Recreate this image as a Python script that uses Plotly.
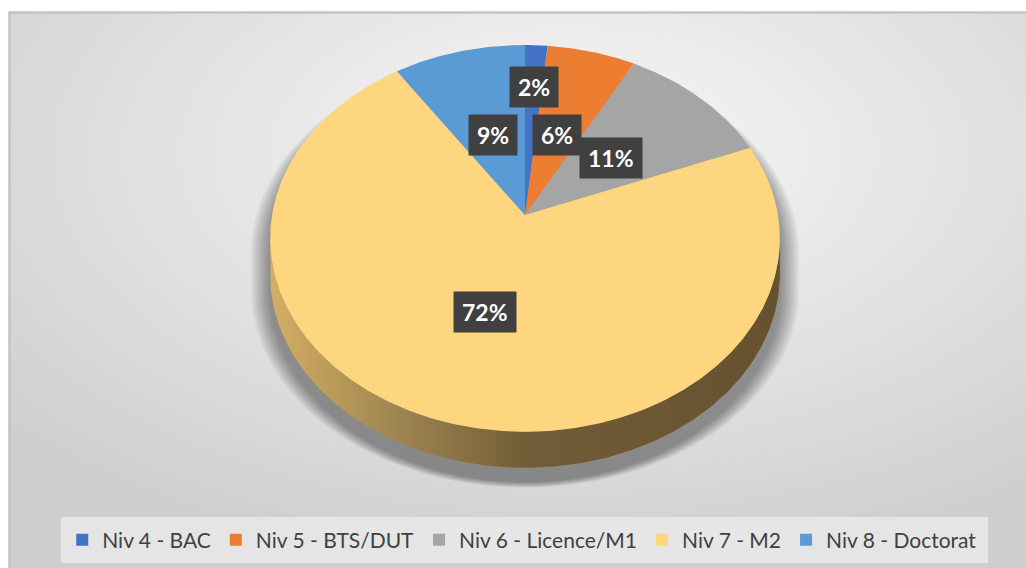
import base64
import numpy as np
import plotly.graph_objects as go

# ---------------- data ----------------
categories = ["Niv 4 - BAC", "Niv 5 - BTS/DUT", "Niv 6 - Licence/M1", "Niv 7 - M2", "Niv 8 - Doctorat"]
values = [1.6, 6.3, 11.1, 71.6, 9.4]
labels = ["2%", "6%", "11%", "72%", "9%"]

# ---------------- style ----------------
colors = ["#4472c4", "#ed7d31", "#a5a5a5", "#fed67f", "#5b9bd5"]
label_r = [0.73, 0.46, 0.47, 0.50, 0.46]
W, H = 1026, 568
CX, CY = 525, 215      # projected pie centre (px)
R = 253                # radius (px)
S = 0.753              # tilt compression
K = 0.121              # perspective strength
T = 36                 # pie thickness (px)


def proj(theta, r=1.0):
    x = r * np.sin(theta)
    y = r * np.cos(theta)
    d = 1 + K * y
    return CX + R * x / d, CY - R * S * y / d


fig = go.Figure()

# background panel (gradient) as svg image
svg = (
    f'<svg xmlns="http://www.w3.org/2000/svg" width="{W}" height="{H}">'
    '<defs><radialGradient id="g" cx="0.55" cy="0.25" r="0.75">'
    '<stop offset="0" stop-color="#f8f8f8"/><stop offset="1" stop-color="#cecece"/>'
    '</radialGradient></defs>'
    f'<rect x="9.5" y="12.5" width="{W}" height="{H}" fill="url(#g)" stroke="#c3c3c3" stroke-width="2.5"/>'
    '</svg>'
)
src = "data:image/svg+xml;base64," + base64.b64encode(svg.encode()).decode()
fig.add_layout_image(dict(source=src, xref="paper", yref="paper", x=0, y=1, sizex=1, sizey=1,
                          xanchor="left", yanchor="top", sizing="stretch", layer="below"))

# legend box
fig.add_shape(type="rect", xref="x", yref="y", x0=61, x1=988, y0=517, y1=563,
              fillcolor="rgba(236,236,236,0.75)", line=dict(width=0), layer="below")

# silhouette & side
ta = np.arccos(-K)
tb = 2 * np.pi - ta
back = np.linspace(tb, ta + 2 * np.pi, 200)
front = np.linspace(ta, tb, 200)
bx, by = proj(back)
fx, fy = proj(front)
sil_x = np.concatenate([bx, fx])
sil_y = np.concatenate([by, fy + T])

# soft shadow (grows sideways, shifted down)
for i in range(12):
    ex = 1 + (i + 1) * 1.6 / R
    ey = 1 + (i + 1) * 0.5 / R
    fig.add_trace(go.Scatter(
        x=CX + (sil_x - CX) * ex, y=CY + (sil_y - CY) * ey + 14,
        fill="toself", mode="lines", line=dict(width=0),
        fillcolor="rgba(0,0,0,0.035)", hoverinfo="skip", showlegend=False))

# side wall
side_x = np.concatenate([fx, fx[::-1]])
side_y = np.concatenate([fy, fy[::-1] + T])
fig.add_trace(go.Scatter(
    x=side_x, y=side_y, fill="toself", mode="lines", line=dict(width=0),
    fillgradient=dict(type="horizontal",
                      colorscale=[[0, "#d4af63"], [0.25, "#9e8550"], [0.5, "#735d37"], [1, "#665130"]]),
    hoverinfo="skip", showlegend=False))

# top face slices
total = float(sum(values))
cum = np.concatenate([[0], np.cumsum(values)]) / total * 2 * np.pi
for i, cat in enumerate(categories):
    n = max(4, int((cum[i + 1] - cum[i]) * 120))
    th = np.linspace(cum[i], cum[i + 1], n)
    ax, ay = proj(th)
    fig.add_trace(go.Scatter(
        x=np.concatenate([[CX], ax, [CX]]), y=np.concatenate([[CY], ay, [CY]]),
        fill="toself", mode="lines", line=dict(width=0), fillcolor=colors[i],
        name=cat, hoverinfo="name", showlegend=False))

# legend entries
for i, cat in enumerate(categories):
    fig.add_trace(go.Scatter(x=[None], y=[None], mode="markers", name=cat,
                             marker=dict(symbol="square", size=12, color=colors[i])))

# data labels
for i, lab in enumerate(labels):
    mid = (cum[i] + cum[i + 1]) / 2
    lx, ly = proj(mid, label_r[i])
    fig.add_annotation(x=lx, y=ly, xref="x", yref="y", text=lab, showarrow=False,
                       bgcolor="#404040", borderpad=8, height=24,
                       font=dict(family="Lato", size=23, color="white", weight="bold"))

fig.update_layout(
    width=W, height=H, margin=dict(l=0, r=0, t=0, b=0),
    paper_bgcolor="white", plot_bgcolor="rgba(0,0,0,0)",
    xaxis=dict(range=[0, W], visible=False, fixedrange=True),
    yaxis=dict(range=[H, 0], visible=False, fixedrange=True),
    legend=dict(orientation="h", x=0.509, xanchor="center", y=1 - 540 / H, yanchor="middle",
                bgcolor="rgba(0,0,0,0)", font=dict(family="Lato", size=21, color="#404040"),
                itemwidth=30, tracegroupgap=0),
    showlegend=True,
)

fig.write_html("out.html", config={"displayModeBar": False},
               post_script="document.body.style.margin='0';")
